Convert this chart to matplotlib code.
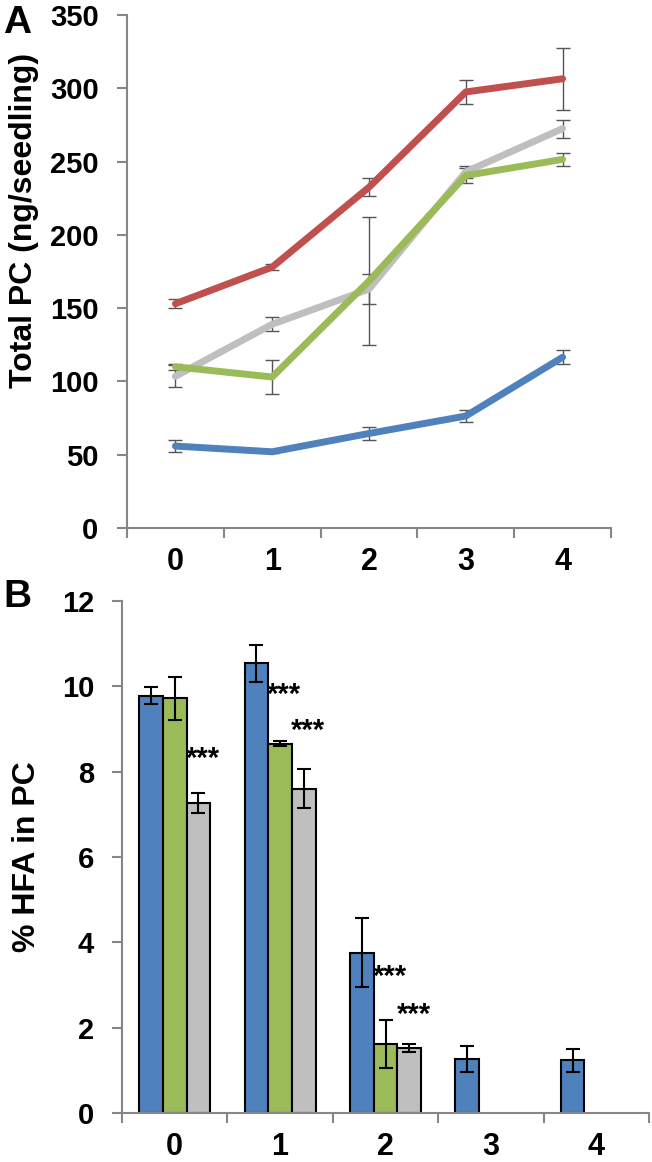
import numpy as np
import matplotlib.pyplot as plt

plt.rcParams["font.family"] = ["Liberation Sans", "DejaVu Sans"]
plt.rcParams["font.weight"] = "bold"

# ---- data ----
days = [0, 1, 2, 3, 4]

# panel A: total PC (ng/seedling)
pc_blue = [55.9, 52.0, 64.5, 76.4, 116.5]
pc_blue_err = [3.8, 1.0, 4.7, 3.9, 4.9]
pc_red = [153.0, 178.0, 232.5, 297.5, 306.5]
pc_red_err = [3.0, 2.0, 6.0, 8.0, 21.0]
pc_gray = [103.5, 139.0, 163.0, 243.0, 272.5]
pc_gray_err = [7.5, 4.8, 10.0, 4.0, 6.2]
pc_green = [110.0, 103.0, 168.5, 240.5, 251.5]
pc_green_err = [2.0, 11.7, 43.5, 5.0, 4.4]

# panel B: % HFA in PC
hfa_blue = [9.78, 10.54, 3.76, 1.27, 1.24]
hfa_blue_err = [0.20, 0.43, 0.80, 0.31, 0.27]
hfa_green = [9.72, 8.66, 1.62, None, None]
hfa_green_err = [0.50, 0.07, 0.56, None, None]
hfa_gray = [7.27, 7.60, 1.52, None, None]
hfa_gray_err = [0.23, 0.46, 0.10, None, None]

# significance marks: group, series (1 = green, 2 = gray), y
star_group = [0, 1, 1, 2, 2]
star_series = [2, 1, 2, 1, 2]
star_y = [8.3, 9.8, 8.95, 3.2, 2.3]

C_BLUE = "#4F81BD"
C_RED = "#C0504D"
C_GREEN = "#9BBB59"
C_GRAY = "#BFBFBF"
SPINE = "#868686"

W, H = 652, 1162
fig = plt.figure(figsize=(W / 100, H / 100), dpi=100)


def px_box(left, right, top, bottom):
    return [left / W, 1 - bottom / H, (right - left) / W, (bottom - top) / H]


def style_axes(ax, ymax, ystep, ypad, xpad, ysize, xsize):
    for s in ["top", "right"]:
        ax.spines[s].set_visible(False)
    for s in ["left", "bottom"]:
        ax.spines[s].set_color(SPINE)
        ax.spines[s].set_linewidth(1.5)
    ax.set_xlim(-0.5, 4.5)
    ax.set_ylim(0, ymax)
    ax.set_yticks(np.arange(0, ymax + 0.001, ystep))
    ax.set_xticks(days)
    ax.set_xticklabels([str(d) for d in days])
    ax.set_xticks(np.arange(-0.5, 4.6, 1), minor=True)
    ax.tick_params(axis="x", which="major", length=0, pad=xpad,
                   labelsize=xsize)
    ax.tick_params(axis="x", which="minor", length=7, width=1.5, color=SPINE,
                   direction="out")
    ax.tick_params(axis="y", length=7, width=1.5, color=SPINE, pad=ypad,
                   labelsize=ysize)
    for lab in ax.get_xticklabels() + ax.get_yticklabels():
        lab.set_fontweight("bold")


# ---- A: line chart ----
ax1 = fig.add_axes(px_box(127, 611, 15, 528))
series_a = [
    (pc_blue, pc_blue_err, C_BLUE),
    (pc_gray, pc_gray_err, C_GRAY),
    (pc_green, pc_green_err, C_GREEN),
    (pc_red, pc_red_err, C_RED),
]
for vals, errs, col in series_a:
    ax1.errorbar(days, vals, yerr=errs, fmt="none", ecolor="#555555",
                 elinewidth=1.0, capsize=5, capthick=1.0, zorder=2)
for vals, errs, col in series_a:
    ax1.plot(days, vals, color=col, linewidth=5, solid_capstyle="round",
             solid_joinstyle="round", zorder=3)
style_axes(ax1, 350, 50, 13.5, 14, 21, 22)

fig.text(24 / W, 1 - 220 / H, "Total PC (ng/seedling)", rotation=90,
         ha="center", va="center", fontsize=23, fontweight="bold")
fig.text(3 / W, 1 - 33 / H, "A", ha="left", va="baseline", fontsize=28,
         fontweight="bold")

# ---- B: bar chart ----
ax2 = fig.add_axes(px_box(122, 649, 601, 1113))
bw = 0.225
series_b = [
    (hfa_blue, hfa_blue_err, C_BLUE),
    (hfa_green, hfa_green_err, C_GREEN),
    (hfa_gray, hfa_gray_err, C_GRAY),
]
offsets = [-bw, 0, bw]
for (vals, errs, col), off in zip(series_b, offsets):
    xs = [d + off for d, v in zip(days, vals) if v is not None]
    ys = [v for v in vals if v is not None]
    es = [e for e in errs if e is not None]
    ax2.bar(xs, ys, width=bw, color=col, edgecolor="black", linewidth=1.5,
            zorder=2)
    ax2.errorbar(xs, ys, yerr=es, fmt="none", ecolor="black", elinewidth=1.5,
                 capsize=5, capthick=1.5, zorder=3)

for g, s, y in zip(star_group, star_series, star_y):
    ax2.text(g + offsets[s] + 0.04, y, "***", ha="center", va="center",
             fontsize=21, fontweight="bold", zorder=4)

style_axes(ax2, 12, 2, 13, 14, 21, 22)

fig.text(27 / W, 1 - 857 / H, "% HFA in PC", rotation=90, ha="center",
         va="center", fontsize=23, fontweight="bold")
fig.text(3 / W, 1 - 607 / H, "B", ha="left", va="baseline", fontsize=28,
         fontweight="bold")

fig.savefig("out.png", dpi=100)
